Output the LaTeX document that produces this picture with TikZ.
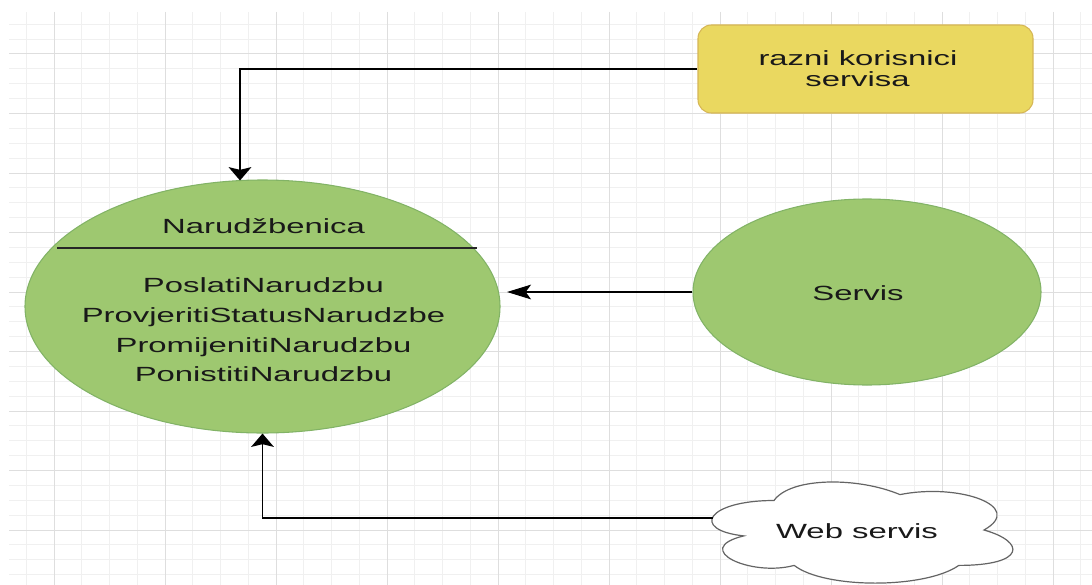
\documentclass[tikz,border=0pt]{standalone}
\usepackage{fontspec}
\setmainfont{Liberation Sans}
\usepackage{graphicx}
\usetikzlibrary{shapes.geometric,arrows.meta}
\definecolor{gfill}{RGB}{158,200,112}
\definecolor{gline}{RGB}{130,179,102}
\definecolor{yfill}{RGB}{234,216,96}
\definecolor{yline}{RGB}{214,182,86}
\definecolor{gridmaj}{RGB}{222,222,222}
\definecolor{gridmin}{RGB}{240,240,240}
\definecolor{txt}{RGB}{25,25,25}
\definecolor{cloudline}{RGB}{100,100,100}
\newcommand\sx[1]{\scalebox{1.6}[1]{#1}}
\begin{document}
\begin{tikzpicture}[x=0.75pt,y=-0.75pt,
  lbl/.style={anchor=base,inner sep=0pt,text=txt,font=\fontsize{15.4}{18}\selectfont},
  greenell/.style={ellipse,draw=gline,fill=gfill,line width=0.8pt,inner sep=0pt},
  yellowbox/.style={draw=yline,fill=yfill,rounded corners=10pt,line width=0.8pt,inner sep=0pt},
  conn/.style={line width=1.4pt,draw=black},
  tipv/.style={-{Stealth[length=10pt,width=17pt,inset=2pt]}},
  tiph/.style={-{Stealth[length=18pt,width=11pt,inset=4pt]}},
  minorline/.style={draw=gridmin,line width=0.75pt},
  majorline/.style={draw=gridmaj,line width=0.75pt},
]
\useasboundingbox (0,0) rectangle (1092,585);
% grid
\foreach \k in {0,...,38} \draw[minorline] ({26.25+27.75*\k},12) -- ({26.25+27.75*\k},585);
\foreach \k in {0,...,37} \draw[minorline] (9,{24.25+14.875*\k}) -- (1092,{24.25+14.875*\k});
\foreach \k in {0,...,9} \draw[majorline] ({54+111*\k},12) -- ({54+111*\k},585);
\foreach \k in {0,...,8} \draw[majorline] (9,{54+59.5*\k}) -- (1092,{54+59.5*\k});

% main ellipse
\node[greenell, minimum width=475*0.75pt, minimum height=253*0.75pt] (narud) at (262.5,306.5) {};
\draw[line width=1pt,black!85] (57,248) -- (477,248);
\node[lbl] (title) at (263.5,233) {\sx{Narudžbenica}};
\node[lbl] (m1) at (263.5,292.5) {\sx{PoslatiNarudzbu}};
\node[lbl] (m2) at (263.5,322) {\sx{ProvjeritiStatusNarudzbe}};
\node[lbl] (m3) at (263.5,352) {\sx{PromijenitiNarudzbu}};
\node[lbl] (m4) at (263.5,381.5) {\sx{PonistitiNarudzbu}};

% users box
\node[yellowbox, minimum width=335*0.75pt, minimum height=88*0.75pt] (users) at (865.5,69) {};
\node[lbl] (u1) at (858,65) {\sx{razni korisnici}};
\node[lbl] (u2) at (857.5,87) {\sx{servisa}};

% Servis
\node[greenell, minimum width=348*0.75pt, minimum height=186*0.75pt] (servis) at (867,292) {};
\node[lbl] (servisT) at (858,300) {\sx{Servis}};

% cloud
\draw[draw=cloudline,fill=white,line width=0.9pt]
  (774,500.5) .. controls (706.8,500.5) and (690,530) .. (743.8,535.9)
  .. controls (690,548.9) and (750.5,577.2) .. (794.2,565.4)
  .. controls (824.4,589) and (925.2,589) .. (958.8,565.4)
  .. controls (1026,565.4) and (1026,541.8) .. (984,530)
  .. controls (1026,506.4) and (958.8,482.8) .. (900,494.6)
  .. controls (858,476.9) and (790.8,476.9) .. (774,500.5) -- cycle;
\coordinate (cloudW) at (712.5,518);
\node[lbl] (webT) at (857,538) {\sx{Web servis}};

% connectors
\coordinate (narudTop) at (240,180.5);
\coordinate (narudE) at (507,292);
\draw[conn,tipv] (users.west) -| (narudTop);
\draw[conn,tiph] (servis.west) -- (narudE);
\draw[conn,tipv] (cloudW) -| (narud.south);
\end{tikzpicture}
\end{document}
